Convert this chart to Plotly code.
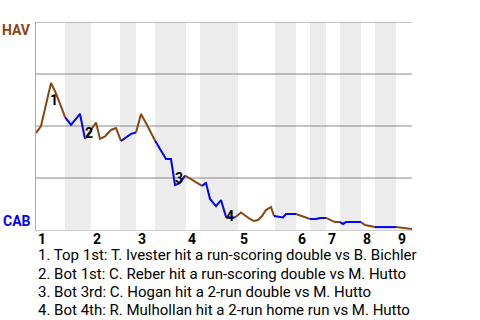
import plotly.graph_objects as go

# Game progress (approx. plate-appearance index) and HAV win probability (%)
pa = [0, 1, 3, 3.8, 5.2, 5.8, 7, 8.8, 9.8, 12, 12.8, 13.8, 15, 16, 17, 18, 19, 20,
      21, 22.2, 23.8, 24.6, 26, 27, 27.8, 28.8, 29.8, 32.2, 33.2, 34, 34.8, 36, 37,
      38, 39.8, 41, 42.8, 43.6, 44.4, 45.2, 46, 47, 47.6, 48.8, 49.4, 50, 52, 53.2,
      54, 54.8, 56, 56.8, 58, 58.8, 59.8, 60.8, 61.4, 62, 65, 65.8, 66.8, 67.8, 72,
      72.8, 73.4, 74.4, 75.2]
wp_hav = [46.6, 50.0, 70.7, 66.8, 58.2, 54.3, 50.5, 55.8, 43.8, 51.7, 43.8, 45.0,
          48.1, 49.0, 42.8, 44.7, 46.2, 46.9, 55.8, 50.5, 43.0, 39.9, 34.1, 34.1,
          21.6, 22.6, 26.2, 22.6, 21.2, 22.6, 14.9, 11.5, 14.4, 6.3, 6.0, 8.4, 5.3,
          4.3, 4.8, 6.7, 9.6, 11.1, 6.7, 6.3, 6.0, 7.7, 7.7, 6.7, 5.8, 5.3, 5.3, 5.8,
          5.8, 4.8, 3.8, 3.8, 2.9, 3.8, 3.8, 2.4, 1.9, 1.4, 1.4, 1.2, 1.0, 0.5, 0.5]
# indices where each half-inning segment starts (last = end)
half_breaks = [0, 5, 8, 14, 17, 20, 26, 28, 34, 42, 46, 49, 52, 55, 58, 61, 62, 66]

# bottom-half shading bands and inning starts
bot_start = [5.8, 16.8, 23.8, 32.8, 47.8, 54.8, 60.8, 67.8]
bot_end = [11, 20, 30, 40.4, 52, 58, 65, 72]
inning_start = [0, 11, 20, 30, 40.4, 52, 58, 65, 72]
inning_label = ["1", "2", "3", "4", "5", "6", "7", "8", "9"]

grid_levels = [25, 50, 75, 100]

event_num = ["1", "2", "3", "4"]
event_x = [3.6, 10.5, 28.6, 38.7]
event_y = [62.5, 46.4, 24.8, 6.7]
event_text = [
    "1. Top 1st: T. Ivester hit a run-scoring double vs B. Bichler",
    "2. Bot 1st: C. Reber hit a run-scoring double vs M. Hutto",
    "3. Bot 3rd: C. Hogan hit a 2-run double vs M. Hutto",
    "4. Bot 4th: R. Mulhollan hit a 2-run home run vs M. Hutto",
]

BROWN = "#8B4513"
BLUE = "#0000FF"
FONT = "Roboto"
X_MAX = pa[-1]

fig = go.Figure()
for k in range(len(half_breaks) - 1):
    a, b = half_breaks[k], half_breaks[k + 1]
    fig.add_trace(go.Scatter(
        x=pa[a:b + 1], y=wp_hav[a:b + 1], mode="lines",
        line=dict(color=BROWN if k % 2 == 0 else BLUE, width=2),
        hoverinfo="skip", showlegend=False))

shapes = []
for s, e in zip(bot_start, bot_end):
    shapes.append(dict(type="rect", xref="x", yref="paper", x0=s, x1=e, y0=0, y1=1,
                       fillcolor="#ececec", line=dict(width=0), layer="below"))
for g in grid_levels:
    shapes.append(dict(type="line", xref="x", yref="y", x0=0, x1=X_MAX, y0=g, y1=g,
                       line=dict(color="#888888", width=1), layer="below"))

ann = []
for n, x, y in zip(event_num, event_x, event_y):
    ann.append(dict(x=x, y=y, xref="x", yref="y", text=n, showarrow=False,
                    font=dict(family=FONT, size=14, color="black", weight="bold")))
for x, t in zip(inning_start, inning_label):
    ann.append(dict(x=x, y=-0.043, xref="x", yref="paper", text=t, showarrow=False,
                    xanchor="left", yanchor="middle",
                    font=dict(family=FONT, size=14, color="black", weight="bold")))
for i, t in enumerate(event_text):
    ypx = 255.5 + 18 * i
    ann.append(dict(x=0, y=(230 - ypx) / 208, xref="paper", yref="paper", text=t,
                    showarrow=False, xanchor="left", yanchor="middle",
                    font=dict(family=FONT, size=15, color="black")))
ann.append(dict(x=0, y=(230 - 29.7) / 208, xref="paper", yref="paper", text="HAV",
                showarrow=False, xanchor="right", yanchor="middle", xshift=-3,
                font=dict(family=FONT, size=14, color=BROWN, weight="bold")))
ann.append(dict(x=0, y=(230 - 220.5) / 208, xref="paper", yref="paper", text="CAB",
                showarrow=False, xanchor="right", yanchor="middle", xshift=-3,
                font=dict(family=FONT, size=14, color=BLUE, weight="bold")))

fig.update_layout(
    width=480, height=320,
    margin=dict(l=36, r=68, t=22, b=90),
    paper_bgcolor="white", plot_bgcolor="white",
    shapes=shapes, annotations=ann,
    xaxis=dict(range=[0, X_MAX], showgrid=False, zeroline=False, showticklabels=False,
               ticks="", showline=True, linecolor="#cccccc", linewidth=1),
    yaxis=dict(range=[0, 100], showgrid=False, zeroline=False, showticklabels=False,
               ticks="", showline=True, linecolor="#aaaaaa", linewidth=1),
)
fig.write_html("out.html")
